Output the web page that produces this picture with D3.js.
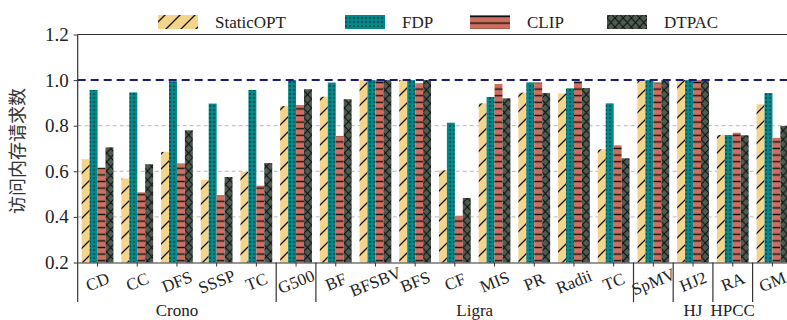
<!DOCTYPE html>
<html><head><meta charset="utf-8">
<script src="https://cdn.jsdelivr.net/npm/d3@7"></script>
<style>
body{margin:0;background:#fff;}
text{font-family:"Liberation Serif","Times New Roman",serif;fill:#222;}
</style></head>
<body><svg id="c" width="787" height="320"></svg>
<script>
const categories = ["CD","CC","DFS","SSSP","TC","G500","BF","BFSBV","BFS","CF","MIS","PR","Radii","TC","SpMV","HJ2","RA","GM"];
const groupNames = ["Crono","","Ligra","","HJ","HPCC",""];
const groupSizes = [5,1,8,1,1,1,1];
const seriesNames = ["StaticOPT","FDP","CLIP","DTPAC"];
const staticOPT = [0.653,0.568,0.685,0.563,0.597,0.886,0.927,1.0,1.0,0.604,0.898,0.945,0.942,0.696,1.0,1.0,0.759,0.894];
const fdp       = [0.957,0.946,0.995,0.897,0.957,1.0,0.989,1.0,1.0,0.813,0.926,0.990,0.964,0.898,1.0,1.0,0.759,0.943];
const clip      = [0.616,0.508,0.635,0.495,0.537,0.891,0.755,1.0,0.986,0.405,0.983,0.989,0.995,0.714,0.989,1.0,0.769,0.747];
const dtpac     = [0.705,0.631,0.780,0.575,0.636,0.960,0.916,1.0,1.0,0.483,0.920,0.943,0.965,0.657,1.0,1.0,0.758,0.799];
const yTicks = [0.2,0.4,0.6,0.8,1.0,1.2];
const refLine = 1.0;

const series = [staticOPT, fdp, clip, dtpac];
const colors = ["#f3d488","#00888a","#cf6f5f","#4d5b51"];
const svg = d3.select("#c");
const leftX = 77.7, bandW = 39.7, topY = 34.5, bottomY = 262.5;

// patterns
const defs = svg.append("defs");
function pat(id, size, color, draw){
  const p = defs.append("pattern").attr("id",id).attr("patternUnits","userSpaceOnUse")
    .attr("width",size[0]).attr("height",size[1]);
  p.append("rect").attr("width",size[0]).attr("height",size[1]).attr("fill",color);
  draw(p);
}
pat("p0",[15,15],colors[0],p=>{
  p.append("path").attr("d","M0,15 L15,0 M-2,2 L2,-2 M13,17 L17,13").attr("stroke","#111").attr("stroke-width",1.3);
});
pat("p1",[4,4],colors[1],p=>{
  p.append("circle").attr("cx",2).attr("cy",2).attr("r",0.8).attr("fill","#111");
});
pat("p2",[8,6.6],colors[2],p=>{
  p.append("line").attr("x1",0).attr("x2",8).attr("y1",3.3).attr("y2",3.3).attr("stroke","#111").attr("stroke-width",1.4);
});
pat("p3",[8.2,9],colors[3],p=>{
  p.append("path").attr("d","M0,0 L8.2,9 M0,9 L8.2,0").attr("stroke","#111").attr("stroke-width",1.1);
});

const x = d3.scaleBand().domain(d3.range(categories.length)).range([leftX, leftX+bandW*categories.length]).paddingInner(0).paddingOuter(0);
const xs = d3.scaleBand().domain(d3.range(series.length)).range([0, x.bandwidth()*0.8]);
const y = d3.scaleLinear().domain([0.2,1.2]).range([bottomY, topY]);

// gridlines
svg.append("g").selectAll("line").data(yTicks.filter(t=>t>0.2 && t<1.0)).join("line")
  .attr("x1",leftX).attr("x2",787).attr("y1",d=>y(d)).attr("y2",d=>y(d))
  .attr("stroke","#b8b8b8").attr("stroke-width",1).attr("stroke-dasharray","4,3");

// bars
const g = svg.append("g");
series.forEach((s,si)=>{
  g.append("g").selectAll("rect").data(s).join("rect")
    .attr("x",(d,i)=>x(i)+x.bandwidth()*0.1+xs(si))
    .attr("width",xs.bandwidth())
    .attr("y",d=>y(d)).attr("height",d=>y(0.2)-y(d))
    .attr("fill",`url(#p${si})`);
});

// reference line
svg.append("line").attr("x1",leftX).attr("x2",787).attr("y1",y(refLine)).attr("y2",y(refLine))
  .attr("stroke","#1c1c72").attr("stroke-width",2).attr("stroke-dasharray","8,5");

// axes
const ya = svg.append("g").attr("transform",`translate(${leftX},0)`)
  .call(d3.axisLeft(y).tickValues(yTicks).tickFormat(d3.format(".1f")).tickSize(4).tickPadding(5));
ya.select(".domain").remove();
ya.selectAll("text").style("font-size","19px");
ya.selectAll("line").attr("stroke","#333");
svg.append("line").attr("x1",leftX).attr("x2",leftX).attr("y1",topY).attr("y2",302).attr("stroke","#333").attr("stroke-width",1.2);
svg.append("line").attr("x1",leftX).attr("x2",787).attr("y1",topY).attr("y2",topY).attr("stroke","#333").attr("stroke-width",1.2);

const xa = svg.append("g").attr("transform",`translate(0,${bottomY})`)
  .call(d3.axisBottom(x).tickFormat(i=>categories[i]).tickSize(4).tickSizeOuter(0));
xa.select(".domain").attr("stroke","#333").attr("stroke-width",1.2);
xa.selectAll("line").attr("stroke","#333");
xa.selectAll("text").style("font-size","17px")
  .attr("y",0).attr("dy","0.35em").attr("text-anchor","middle")
  .attr("transform","translate(0,19) rotate(-22)");

// group separators and labels
let acc = 0;
groupSizes.forEach((n,gi)=>{
  const start = acc, end = acc+n;
  if (end < categories.length) {
    const bx = x(end);
    svg.append("line").attr("x1",bx).attr("x2",bx).attr("y1",bottomY).attr("y2",302).attr("stroke","#333").attr("stroke-width",1.2);
  }
  if (groupNames[gi]) {
    const cx = (x(start)+x(end-1)+x.bandwidth())/2;
    svg.append("text").attr("x",cx).attr("y",316).attr("text-anchor","middle").style("font-size","17px").text(groupNames[gi]);
  }
  acc = end;
});

// y title
svg.append("text").attr("transform","translate(24,151) rotate(-90)").attr("text-anchor","middle")
  .style("font-family","'Noto Sans CJK SC'").style("font-size","18px").style("fill","#333").text("访问内存请求数");

// legend
const legX = [158,345,470,607];
const lg = svg.append("g");
seriesNames.forEach((nm,i)=>{
  lg.append("rect").attr("x",legX[i]).attr("y",15).attr("width",40).attr("height",14).attr("fill",`url(#p${i})`);
  lg.append("text").attr("x",legX[i]+57).attr("y",28).style("font-size","17px").text(nm);
});
</script></body></html>
